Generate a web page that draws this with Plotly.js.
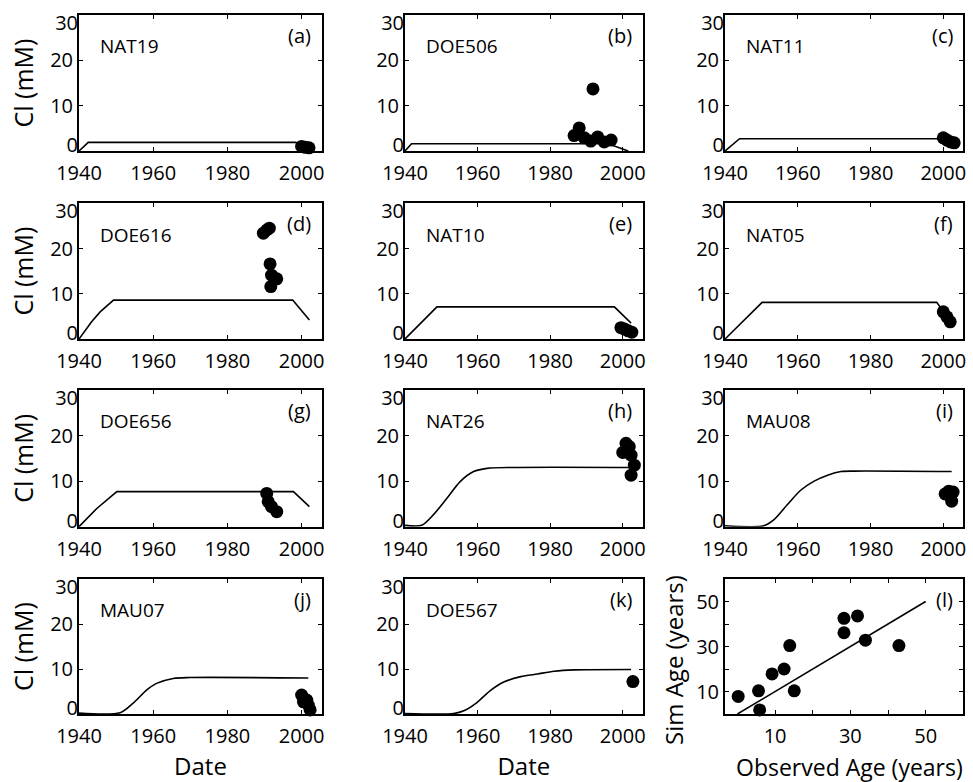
<!DOCTYPE html>
<html><head><meta charset="utf-8">
<script src="https://cdn.plot.ly/plotly-3.0.1.min.js"></script>
<style>html,body{margin:0;padding:0;background:#fff}</style>
</head><body><div id="chart" style="width:973px;height:782px"></div>
<script>
// ---- data ----
const wellNames = ['NAT19','DOE506','NAT11','DOE616','NAT10','NAT05','DOE656','NAT26','MAU08','MAU07','DOE567'];
const panelTags = ['(a)','(b)','(c)','(d)','(e)','(f)','(g)','(h)','(i)','(j)','(k)','(l)'];
const yearTicks = [1940,1960,1980,2000];
const clTicks = [0,10,20,30];
const clTickText = ['0','10','20','30'];

// simulated Cl (lines)
const simYearA = [1940,1942.5,1998.4,2001];
const simClA   = [0,1.9,1.9,1.0];
const simYearB = [1940,1941.8,1996,2001.5];
const simClB   = [0,1.6,1.6,0];
const simYearC = [1940,1944,1999,2001];
const simClC   = [0,2.7,2.7,2.2];
const simYearD = [1940,1943.4,1945.7,1949.3,1997.6,2002.1];
const simClD   = [0,3.8,6.0,8.6,8.6,4.2];
const simYearE = [1940,1948.8,1997.7,2002.3];
const simClE   = [0,7.1,7.1,3.5];
const simYearF = [1940,1950.2,1998.2,1999.6,2001];
const simClF   = [0,8.1,8.1,6.6,5.0];
const simYearG = [1940,1944.8,1950.2,1997.8,2002.1];
const simClG   = [0,4.0,7.7,7.7,4.4];
const simYearH = [1940,1944.6,1947.8,1951.5,1955.2,1958.9,1962.6,1970,2002.3];
const simClH   = [0.3,0.3,2.6,6.2,9.9,12.1,12.8,13,13];
const simYearI = [1940,1950.6,1953.4,1957.1,1960.8,1964.5,1968.2,1971.9,1975.6,2002.3];
const simClI   = [0.2,0.2,1.5,4.8,8.0,10.0,11.3,12.1,12.2,12.1];
const simYearJ = [1940,1951.1,1954.6,1958.2,1960.9,1965.4,1969.9,2001.8];
const simClJ   = [0.2,0.3,2.4,5.3,6.8,7.9,8.1,8.0];
const simYearK = [1940,1953.4,1956.2,1959.9,1963.5,1967.2,1971.9,1976.5,1981.1,1986.6,2002.3];
const simClK   = [0.1,0.1,0.7,2.6,5.2,7.1,8.3,8.9,9.5,9.8,9.9];

// observed Cl (dots)
const obsYearA = [2000,2001,2002];
const obsClA   = [1.0,0.8,0.7];
const obsYearB = [1986.6,1988,1989.4,1991.2,1991.8,1993.1,1994.9,1996.8];
const obsClB   = [3.4,5.1,2.9,2.2,13.7,3.1,2.0,2.4];
const obsYearC = [2000,2001,2002,2003];
const obsClC   = [2.9,2.4,2.0,1.8];
const obsYearD = [1989.7,1990.6,1991.3,1991.5,1991.9,1993.3,1991.7];
const obsClD   = [23.4,24.1,24.5,16.6,14.1,13.3,11.6];
const obsYearE = [1999.5,2000.5,2001.5,2002.5];
const obsClE   = [2.5,2.2,1.8,1.5];
const obsYearF = [2000,2001,2001.9];
const obsClF   = [6.0,4.9,3.8];
const obsYearG = [1990.6,1991,1991.9,1993.3];
const obsClG   = [7.3,5.5,4.4,3.3];
const obsYearH = [2000,2000.9,2001.8,2002.3,2003.2,2002.3];
const obsClH   = [16.3,18.3,17.6,15.7,13.5,11.3];
const obsYearI = [2000.5,2001.5,2002.7,2002.3];
const obsClI   = [7.2,7.8,7.6,5.6];
const obsYearJ = [2000,2000.5,2001.4,2001.8,2002.3];
const obsClJ   = [4.2,2.7,3.1,2.0,0.9];
const obsYearK = [2002.8];
const obsClK   = [7.2];

// panel (l): age comparison
const observedAge = [0.2,5.6,5.9,9.2,12.4,13.9,15.1,28.3,28.3,31.9,34.0,42.9];
const simAge      = [7.8,10.3,1.8,17.8,20.0,30.4,10.3,42.5,36.1,43.6,32.8,30.4];
const oneToOneX = [0,50];
const oneToOneY = [0,50];
const ageTicks = [10,20,30,40,50];
const ageTickText = ['10','','30','','50'];

const simYears = [simYearA,simYearB,simYearC,simYearD,simYearE,simYearF,simYearG,simYearH,simYearI,simYearJ,simYearK];
const simCls   = [simClA,simClB,simClC,simClD,simClE,simClF,simClG,simClH,simClI,simClJ,simClK];
const obsYears = [obsYearA,obsYearB,obsYearC,obsYearD,obsYearE,obsYearF,obsYearG,obsYearH,obsYearI,obsYearJ,obsYearK];
const obsCls   = [obsClA,obsClB,obsClC,obsClD,obsClE,obsClF,obsClG,obsClH,obsClI,obsClJ,obsClK];
const splinePanels = [7,8,9,10];

// ---- layout geometry ----
const W = 973, H = 782;
const colPx = [[79,322],[405,642.7],[725,963.3]];
const rowPx = [[15,151],[203.3,339],[390,526.7],[579,714]];
const FONT = '"Open Sans", "DejaVu Sans", sans-serif';

const traces = [];
const layout = {
  width: W, height: H,
  margin: {l:0, r:0, t:0, b:0},
  paper_bgcolor: '#fff', plot_bgcolor: '#fff',
  showlegend: false,
  font: {family: FONT, color: '#000', size: 20},
  annotations: []
};

function axisBase() {
  return {
    showgrid: false, zeroline: false,
    showline: true, linecolor: '#000', linewidth: 2, mirror: 'ticks',
    ticks: 'inside', ticklen: 4, tickwidth: 1, tickcolor: '#000',
    tickfont: {family: FONT, size: 20, color: '#000'},
    fixedrange: true
  };
}

let extraAxis = 13;
for (let p = 0; p < 12; p++) {
  const r = Math.floor(p / 3), c = p % 3;
  const n = p + 1;
  const xa = n === 1 ? 'x' : 'x' + n;
  const ya = n === 1 ? 'y' : 'y' + n;
  const xKey = n === 1 ? 'xaxis' : 'xaxis' + n;
  const yKey = n === 1 ? 'yaxis' : 'yaxis' + n;
  const xd = [colPx[c][0] / W, colPx[c][1] / W];
  const yd = [1 - rowPx[r][1] / H, 1 - rowPx[r][0] / H];
  const xax = axisBase(), yax = axisBase();
  xax.domain = xd; yax.domain = yd;
  xax.anchor = ya; yax.anchor = xa;
  xax.ticklabelstandoff = 3;

  if (p < 11) {
    xax.range = [1940, 2005.5];
    xax.tickvals = yearTicks;
    yax.range = [0, 30];
    yax.tickmode = 'array';
    yax.tickvals = clTicks;
    // end labels are drawn by overlay axes, nudged inside the frame
    yax.ticktext = clTickText.map((t, i) => (i === 0 || i === clTicks.length - 1) ? '' : t);
    const edgeShift = [[0, -6], [clTicks.length - 1, 8]];
    edgeShift.forEach(([idx, shift]) => {
      const oy = 'y' + extraAxis;
      layout['yaxis' + extraAxis] = {
        overlaying: ya, anchor: xa, domain: yd, range: [0, 30],
        tickmode: 'array', tickvals: [clTicks[idx]], ticktext: [clTickText[idx]],
        ticklabelshift: shift, ticks: '', showline: false, showgrid: false, zeroline: false,
        tickfont: {family: FONT, size: 20, color: '#000'}, fixedrange: true
      };
      traces.push({type: 'scatter', mode: 'markers', x: [], y: [], xaxis: xa, yaxis: oy, hoverinfo: 'skip'});
      extraAxis++;
    });
    traces.push({
      type: 'scatter', mode: 'lines', x: simYears[p], y: simCls[p],
      xaxis: xa, yaxis: ya,
      line: {color: '#000', width: 1.6, shape: splinePanels.includes(p) ? 'spline' : 'linear', smoothing: 0.8},
      cliponaxis: false, hoverinfo: 'skip'
    });
    traces.push({
      type: 'scatter', mode: 'markers', x: obsYears[p], y: obsCls[p],
      xaxis: xa, yaxis: ya,
      marker: {color: '#000', size: 13},
      cliponaxis: false, hoverinfo: 'skip'
    });
    if (c === 0) {
      yax.title = {text: 'Cl (mM)', font: {family: FONT, size: 25, color: '#000'}, standoff: 9};
    }
    if (r === 3) {
      xax.title = {text: 'Date', font: {family: FONT, size: 24, color: '#000'}, standoff: 14};
    }
    layout.annotations.push({
      xref: xa + ' domain', yref: ya + ' domain', x: 0.078, y: 0.77,
      xanchor: 'left', yanchor: 'middle', showarrow: false,
      text: wellNames[p], font: {family: FONT, size: 19, color: '#000'}
    });
  } else {
    xax.range = [-3.3, 60];
    xax.tickvals = ageTicks; xax.ticktext = ageTickText;
    yax.range = [0, 60];
    yax.tickvals = ageTicks; yax.ticktext = ageTickText;
    traces.push({
      type: 'scatter', mode: 'lines', x: oneToOneX, y: oneToOneY,
      xaxis: xa, yaxis: ya, line: {color: '#000', width: 1.6},
      cliponaxis: false, hoverinfo: 'skip'
    });
    traces.push({
      type: 'scatter', mode: 'markers', x: observedAge, y: simAge,
      xaxis: xa, yaxis: ya, marker: {color: '#000', size: 13},
      cliponaxis: false, hoverinfo: 'skip'
    });
    // axis titles of panel (l), placed as in the reference
    layout.annotations.push({
      xref: 'paper', yref: 'paper', x: 673 / W, y: 1 - 660 / H,
      xanchor: 'center', yanchor: 'middle', textangle: -90, showarrow: false,
      text: 'Sim Age (years)', font: {family: FONT, size: 24, color: '#000'}
    });
    layout.annotations.push({
      xref: 'paper', yref: 'paper', x: 849 / W, y: 1 - 767 / H,
      xanchor: 'center', yanchor: 'middle', showarrow: false,
      text: 'Observed Age (years)', font: {family: FONT, size: 23, color: '#000'}
    });
  }
  layout.annotations.push({
    xref: xa + ' domain', yref: ya + ' domain', x: 0.965, y: 0.85,
    xanchor: 'right', yanchor: 'middle', showarrow: false,
    text: panelTags[p], font: {family: FONT, size: 20, color: '#000'}
  });
  layout[xKey] = xax;
  layout[yKey] = yax;
}

Plotly.newPlot('chart', traces, layout, {staticPlot: true, displayModeBar: false});
</script>
</body></html>
